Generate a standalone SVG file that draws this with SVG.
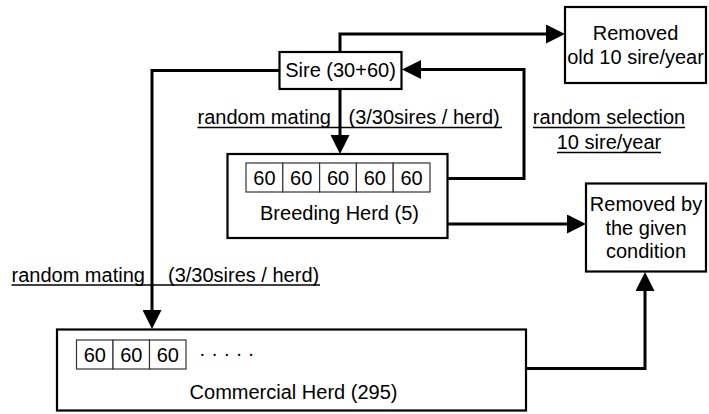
<svg xmlns="http://www.w3.org/2000/svg" width="709" height="414" viewBox="0 0 709 414">
<defs>
<style>
text{font-family:"Liberation Sans",Arial,sans-serif;font-size:20px;fill:#000}
.c{text-anchor:middle}
.box{fill:#fff;stroke:#000;stroke-width:2.2}
.cell{fill:#fff;stroke:#333;stroke-width:1.2}
.con{fill:none;stroke:#000;stroke-width:3}
.ul{stroke:#000;stroke-width:1.5}
</style>
<marker id="ah" markerUnits="userSpaceOnUse" markerWidth="19" markerHeight="19" viewBox="0 0 19 19" refX="14" refY="9.5" orient="auto">
<path d="M0,0 L19,9.5 L0,19 Z" fill="#000"/>
</marker>
</defs>
<rect width="709" height="414" fill="#fff"/>

<g id="connectors">
<polyline class="con" points="340,52 340,34 560,34" marker-end="url(#ah)"/>
<polyline class="con" points="340,89 340,149" marker-end="url(#ah)"/>
<polyline class="con" points="279,70.5 152,70.5 152,324" marker-end="url(#ah)"/>
<polyline class="con" points="448,178.5 524,178.5 524,69.5 407,69.5" marker-end="url(#ah)"/>
<polyline class="con" points="448,224 581,224" marker-end="url(#ah)"/>
<polyline class="con" points="526,368.5 645,368.5 645,277" marker-end="url(#ah)"/>
</g>

<g id="labels">
<text x="197.5" y="124">random mating</text>
<text x="348.5" y="124">(3/30sires / herd)</text>
<line class="ul" x1="197.5" y1="127.5" x2="502" y2="127.5"/>
<text x="11.5" y="281.5">random mating</text>
<text x="168" y="281.5">(3/30sires / herd)</text>
<line class="ul" x1="11.5" y1="285" x2="320" y2="285"/>
<text class="c" x="609" y="124">random selection</text>
<line class="ul" x1="533" y1="127.5" x2="685" y2="127.5"/>
<text class="c" x="609" y="149">10 sire/year</text>
<line class="ul" x1="557" y1="152.5" x2="661" y2="152.5"/>
</g>

<g id="sire">
<rect class="box" x="279.5" y="52" width="122" height="37"/>
<text class="c" x="340.5" y="77">Sire (30+60)</text>
</g>

<g id="removed-old">
<rect class="box" x="565" y="7" width="141" height="76"/>
<text class="c" x="635.5" y="40">Removed</text>
<text class="c" x="635.5" y="64">old 10 sire/year</text>
</g>

<g id="breeding-herd">
<rect class="box" x="227.5" y="154" width="220" height="84"/>
<rect class="cell" x="246" y="163" width="36.8" height="29"/>
<rect class="cell" x="282.8" y="163" width="36.8" height="29"/>
<rect class="cell" x="319.6" y="163" width="36.8" height="29"/>
<rect class="cell" x="356.4" y="163" width="36.8" height="29"/>
<rect class="cell" x="393.2" y="163" width="36.8" height="29"/>
<text class="c" x="264.4" y="185">60</text>
<text class="c" x="301.2" y="185">60</text>
<text class="c" x="338" y="185">60</text>
<text class="c" x="374.8" y="185">60</text>
<text class="c" x="411.6" y="185">60</text>
<text class="c" x="339.5" y="220">Breeding Herd (5)</text>
</g>

<g id="removed-condition">
<rect class="box" x="586" y="183.5" width="120" height="88"/>
<text class="c" x="646" y="211">Removed by</text>
<text class="c" x="646" y="234.5">the given</text>
<text class="c" x="646" y="257.5">condition</text>
</g>

<g id="commercial-herd">
<rect class="box" x="57" y="329.5" width="469" height="81"/>
<rect class="cell" x="76.5" y="340" width="36.5" height="29"/>
<rect class="cell" x="113" y="340" width="36.5" height="29"/>
<rect class="cell" x="149.5" y="340" width="36.5" height="29"/>
<text class="c" x="94.75" y="362">60</text>
<text class="c" x="131.25" y="362">60</text>
<text class="c" x="167.75" y="362">60</text>
<text x="199" y="360">· · · · ·</text>
<text class="c" x="293.5" y="399">Commercial Herd (295)</text>
</g>
</svg>
